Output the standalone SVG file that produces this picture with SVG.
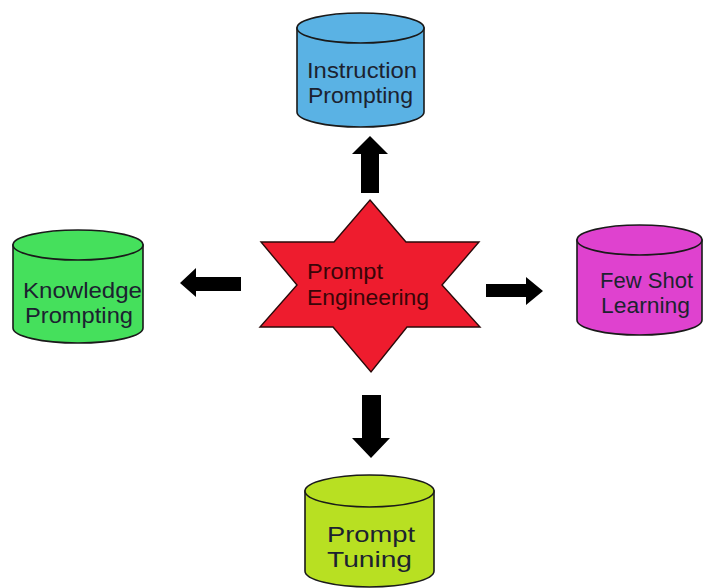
<svg xmlns="http://www.w3.org/2000/svg" width="703" height="588" viewBox="0 0 703 588">
<style>
.cyl{stroke:#1a1a1a;stroke-width:1.6}
.lbl{font-family:"Liberation Sans",Arial,sans-serif;font-size:22px;fill:#1c2230}
.star-lbl{font-family:"Liberation Sans",Arial,sans-serif;font-size:22px;fill:#3a0508}
.arrow{fill:#000}
</style>
<rect width="703" height="588" fill="#ffffff"/>
<g id="connectors">
<polygon class="arrow" points="361,193 361,154 352,154 370,136 388,154 379,154 379,193"/>
<polygon class="arrow" points="241,277 196,277 196,268 180,283 196,297 196,291 241,291"/>
<polygon class="arrow" points="486,284 526,284 526,277 543,291 526,305 526,297 486,297"/>
<polygon class="arrow" points="362,395 381,395 381,438 390,438 371,458 352,438 362,438"/>
</g>
<g id="prompt-engineering">
<polygon points="370,200 406,242 479,242 442,285 480,327 407,327 371,372 333,327 260,327 297,285 261,242 334,242" fill="#ee1c2e" stroke="#2a0a0a" stroke-width="1.4"/>
<text class="star-lbl" x="307" y="279" textLength="76" lengthAdjust="spacingAndGlyphs">Prompt</text>
<text class="star-lbl" x="307" y="305" textLength="122" lengthAdjust="spacingAndGlyphs">Engineering</text>
</g>
<g id="instruction-prompting">
<path class="cyl" fill="#5ab2e4" d="M297,28 L297,112 A63.5,15 0 0 0 424,112 L424,28 Z"/>
<ellipse class="cyl" fill="#5ab2e4" cx="360.5" cy="28" rx="63.5" ry="15"/>
<text class="lbl" x="307" y="78" textLength="110" lengthAdjust="spacingAndGlyphs">Instruction</text>
<text class="lbl" x="308" y="103" textLength="105" lengthAdjust="spacingAndGlyphs">Prompting</text>
</g>
<g id="knowledge-prompting">
<path class="cyl" fill="#45e05c" d="M13,245 L13,328 A65,15 0 0 0 143,328 L143,245 Z"/>
<ellipse class="cyl" fill="#45e05c" cx="78" cy="245" rx="65" ry="15"/>
<text class="lbl" x="23" y="298" textLength="119" lengthAdjust="spacingAndGlyphs">Knowledge</text>
<text class="lbl" x="25" y="323" textLength="108" lengthAdjust="spacingAndGlyphs">Prompting</text>
</g>
<g id="few-shot-learning">
<path class="cyl" fill="#df42cf" d="M577,240 L577,320 A62.5,15 0 0 0 702,320 L702,240 Z"/>
<ellipse class="cyl" fill="#df42cf" cx="639.5" cy="240" rx="62.5" ry="15"/>
<text class="lbl" x="600" y="288" textLength="93" lengthAdjust="spacingAndGlyphs">Few Shot</text>
<text class="lbl" x="601" y="313" textLength="89" lengthAdjust="spacingAndGlyphs">Learning</text>
</g>
<g id="prompt-tuning">
<path class="cyl" fill="#b8e022" d="M305,491 L305,571 A64.5,16 0 0 0 434,571 L434,491 Z"/>
<ellipse class="cyl" fill="#b8e022" cx="369.5" cy="491" rx="64.5" ry="16"/>
<text class="lbl" x="327" y="542" textLength="88" lengthAdjust="spacingAndGlyphs">Prompt</text>
<text class="lbl" x="327" y="567" textLength="85" lengthAdjust="spacingAndGlyphs">Tuning</text>
</g>
</svg>
